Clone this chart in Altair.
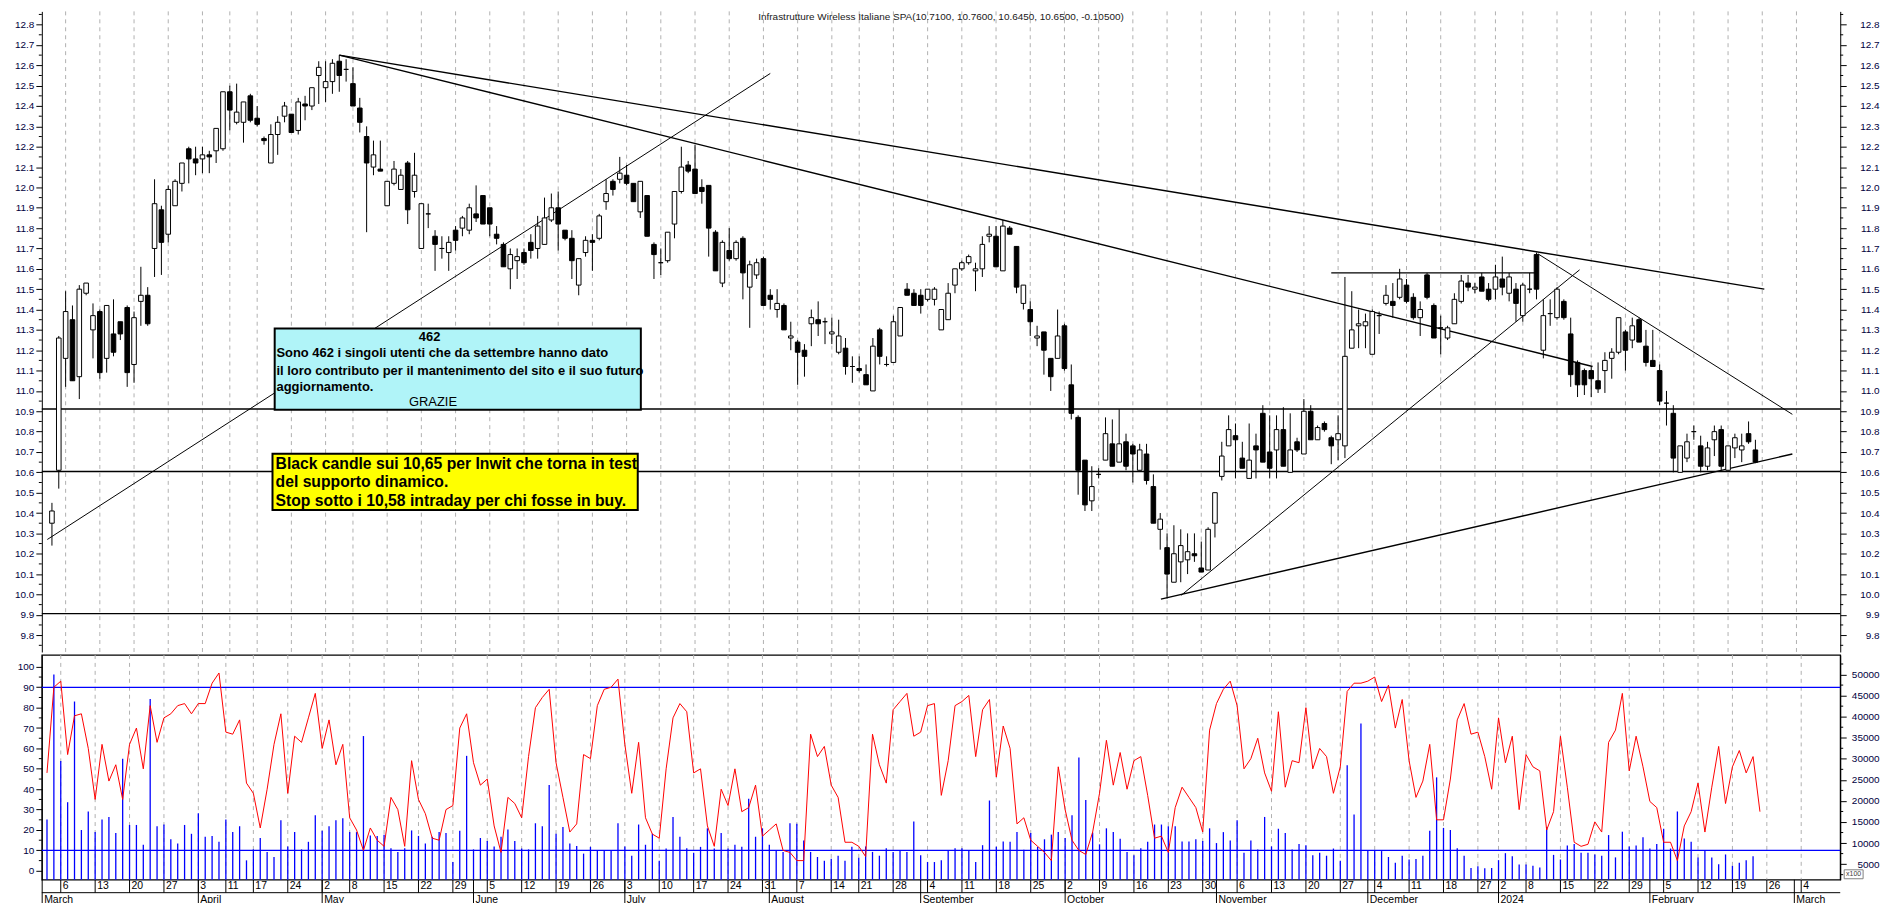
import altair as alt
import pandas as pd

# ---------------- data (trading-day index 0 = 2 Mar 2023) ----------------
OPEN = [10.35, 10.61, 11.16, 11.35, 11.07, 11.48, 11.30, 11.39, 11.16, 11.28,
        11.34, 11.41, 11.13, 11.44, 11.47, 11.70, 11.89, 11.77, 11.91, 12.02,
        12.19, 12.14, 12.14, 12.16, 12.18, 12.19, 12.47, 12.32, 12.32, 12.45,
        12.34, 12.24, 12.12, 12.26, 12.35, 12.36, 12.28, 12.41, 12.40, 12.55,
        12.49, 12.52, 12.62, 12.58, 12.51, 12.39, 12.25, 12.10, 12.09, 11.91,
        12.02, 11.99, 12.12, 11.98, 11.70, 11.87, 11.76, 11.70, 11.68, 11.79,
        11.80, 11.79, 11.87, 11.96, 11.90, 11.77, 11.72, 11.60, 11.64, 11.68,
        11.73, 11.70, 11.72, 11.84, 11.90, 11.79, 11.75, 11.52, 11.68, 11.74,
        11.75, 11.93, 12.03, 12.04, 12.06, 12.02, 11.88, 11.96, 11.72, 11.63,
        11.64, 11.82, 11.98, 12.11, 12.09, 12.00, 12.01, 11.78, 11.53, 11.69,
        11.65, 11.75, 11.51, 11.57, 11.65, 11.47, 11.40, 11.42, 11.26, 11.24,
        11.20, 11.33, 11.35, 11.34, 11.28, 11.19, 11.21, 11.12, 11.11, 11.08,
        11.00, 11.30, 11.13, 11.14, 11.27, 11.50, 11.48, 11.47, 11.45, 11.45,
        11.30, 11.35, 11.52, 11.60, 11.63, 11.59, 11.60, 11.76, 11.76, 11.59,
        11.80, 11.71, 11.43, 11.40, 11.26, 11.29, 11.16, 11.16, 11.32, 11.03,
        10.87, 10.66, 10.46, 10.59, 10.66, 10.74, 10.65, 10.75, 10.73, 10.61,
        10.69, 10.53, 10.32, 10.23, 10.06, 10.16, 10.17, 10.20, 10.13, 10.12,
        10.35, 10.58, 10.73, 10.78, 10.67, 10.57, 10.73, 10.89, 10.70, 10.71,
        10.81, 10.60, 10.75, 10.69, 10.90, 10.76, 10.84, 10.77, 10.76, 10.73,
        11.21, 11.32, 11.32, 11.18, 11.37, 11.43, 11.44, 11.46, 11.52, 11.46,
        11.36, 11.57, 11.42, 11.31, 11.26, 11.33, 11.44, 11.53, 11.50, 11.56,
        11.50, 11.50, 11.55, 11.48, 11.50, 11.37, 11.50, 11.67, 11.20, 11.38,
        11.36, 11.44, 11.28, 11.14, 11.10, 11.10, 11.05, 11.10, 11.16, 11.19,
        11.29, 11.25, 11.35, 11.22, 11.15, 11.10, 10.94, 10.89, 10.60, 10.67,
        10.80, 10.73, 10.63, 10.76, 10.81, 10.61, 10.72, 10.71, 10.79, 10.71]
HIGH = [10.45, 11.27, 11.49, 11.42, 11.52, 11.53, 11.43, 11.40, 11.42, 11.45,
        11.34, 11.42, 11.39, 11.61, 11.51, 12.04, 11.91, 12.01, 12.04, 12.12,
        12.20, 12.20, 12.20, 12.18, 12.29, 12.47, 12.50, 12.51, 12.42, 12.46,
        12.40, 12.25, 12.31, 12.35, 12.42, 12.36, 12.44, 12.45, 12.49, 12.62,
        12.62, 12.63, 12.65, 12.63, 12.59, 12.44, 12.30, 12.23, 12.23, 12.03,
        12.13, 12.09, 12.13, 12.17, 11.92, 11.92, 11.79, 11.76, 11.76, 11.81,
        11.86, 11.92, 12.01, 11.96, 11.90, 11.81, 11.73, 11.70, 11.70, 11.70,
        11.77, 11.86, 11.95, 11.97, 11.98, 11.79, 11.79, 11.65, 11.76, 11.77,
        11.87, 12.04, 12.04, 12.15, 12.11, 12.02, 12.03, 11.96, 11.73, 11.70,
        11.78, 11.98, 12.20, 12.13, 12.21, 12.04, 12.01, 11.79, 11.74, 11.80,
        11.74, 11.76, 11.64, 11.65, 11.66, 11.50, 11.50, 11.43, 11.34, 11.25,
        11.23, 11.40, 11.44, 11.36, 11.36, 11.35, 11.26, 11.17, 11.17, 11.13,
        11.26, 11.31, 11.17, 11.37, 11.41, 11.53, 11.50, 11.50, 11.50, 11.51,
        11.40, 11.53, 11.60, 11.64, 11.67, 11.63, 11.76, 11.81, 11.81, 11.84,
        11.81, 11.71, 11.52, 11.44, 11.32, 11.29, 11.16, 11.40, 11.33, 11.13,
        10.88, 10.66, 10.63, 10.62, 10.87, 10.86, 10.91, 10.79, 10.74, 10.74,
        10.74, 10.59, 10.40, 10.30, 10.34, 10.32, 10.30, 10.30, 10.26, 10.33,
        10.50, 10.75, 10.88, 10.84, 10.75, 10.84, 10.79, 10.93, 10.88, 10.88,
        10.92, 10.89, 10.77, 10.96, 10.93, 10.83, 10.85, 10.78, 10.88, 11.56,
        11.49, 11.40, 11.38, 11.40, 11.39, 11.52, 11.53, 11.60, 11.55, 11.48,
        11.44, 11.58, 11.43, 11.37, 11.32, 11.48, 11.57, 11.57, 11.53, 11.58,
        11.53, 11.62, 11.66, 11.58, 11.53, 11.53, 11.58, 11.68, 11.45, 11.45,
        11.51, 11.45, 11.36, 11.15, 11.11, 11.12, 11.14, 11.19, 11.21, 11.36,
        11.30, 11.36, 11.36, 11.30, 11.30, 11.13, 11.00, 10.93, 10.73, 10.79,
        10.83, 10.78, 10.75, 10.83, 10.83, 10.73, 10.79, 10.79, 10.85, 10.76]
LOW = [10.24, 10.52, 11.02, 11.05, 10.96, 11.47, 11.16, 11.06, 11.09, 11.17,
       11.25, 11.02, 11.04, 11.32, 11.32, 11.56, 11.57, 11.73, 11.91, 11.98,
       12.02, 12.06, 12.07, 12.07, 12.12, 12.18, 12.28, 12.31, 12.22, 12.32,
       12.30, 12.21, 12.12, 12.16, 12.32, 12.27, 12.26, 12.33, 12.38, 12.41,
       12.42, 12.46, 12.47, 12.52, 12.40, 12.27, 11.78, 12.06, 12.08, 11.91,
       12.01, 11.99, 11.82, 11.95, 11.70, 11.80, 11.59, 11.65, 11.59, 11.69,
       11.76, 11.77, 11.83, 11.82, 11.76, 11.72, 11.61, 11.50, 11.55, 11.62,
       11.65, 11.65, 11.72, 11.83, 11.69, 11.74, 11.55, 11.47, 11.66, 11.59,
       11.74, 11.89, 11.96, 12.02, 12.01, 11.93, 11.85, 11.76, 11.55, 11.57,
       11.63, 11.75, 11.97, 12.07, 11.97, 11.92, 11.66, 11.59, 11.51, 11.64,
       11.64, 11.45, 11.31, 11.55, 11.42, 11.40, 11.36, 11.30, 11.20, 11.03,
       11.07, 11.22, 11.27, 11.23, 11.23, 11.18, 11.08, 11.04, 11.09, 11.03,
       11.00, 11.13, 11.12, 11.14, 11.27, 11.47, 11.42, 11.38, 11.44, 11.42,
       11.30, 11.35, 11.48, 11.59, 11.62, 11.49, 11.56, 11.73, 11.61, 11.59,
       11.77, 11.48, 11.40, 11.27, 11.22, 11.08, 11.00, 11.16, 11.10, 10.86,
       10.49, 10.41, 10.41, 10.57, 10.66, 10.63, 10.65, 10.61, 10.55, 10.61,
       10.54, 10.35, 10.22, 9.98, 10.06, 10.06, 10.10, 10.16, 10.11, 10.12,
       10.28, 10.56, 10.73, 10.57, 10.62, 10.57, 10.57, 10.65, 10.57, 10.57,
       10.63, 10.60, 10.70, 10.69, 10.76, 10.76, 10.80, 10.64, 10.66, 10.67,
       11.21, 11.21, 11.21, 11.18, 11.28, 11.42, 11.36, 11.45, 11.43, 11.35,
       11.27, 11.45, 11.26, 11.18, 11.25, 11.33, 11.43, 11.49, 11.48, 11.49,
       11.44, 11.45, 11.47, 11.44, 11.34, 11.34, 11.48, 11.45, 11.16, 11.32,
       11.35, 11.35, 11.02, 10.97, 10.98, 10.97, 10.99, 10.99, 11.06, 11.18,
       11.10, 11.21, 11.24, 11.12, 11.12, 10.93, 10.83, 10.60, 10.60, 10.65,
       10.76, 10.60, 10.61, 10.68, 10.61, 10.61, 10.67, 10.65, 10.74, 10.645]
CLOSE = [10.41, 11.26, 11.39, 11.05, 11.50, 11.53, 11.37, 11.09, 11.42, 11.19,
         11.28, 11.09, 11.36, 11.47, 11.33, 11.92, 11.73, 11.99, 12.03, 12.12,
         12.14, 12.12, 12.16, 12.15, 12.29, 12.47, 12.38, 12.37, 12.42, 12.33,
         12.31, 12.23, 12.26, 12.32, 12.40, 12.27, 12.42, 12.40, 12.49, 12.59,
         12.52, 12.61, 12.55, 12.58, 12.40, 12.32, 12.12, 12.16, 12.08, 12.03,
         12.09, 12.06, 11.89, 12.06, 11.92, 11.87, 11.72, 11.70, 11.73, 11.74,
         11.85, 11.90, 11.85, 11.82, 11.82, 11.75, 11.61, 11.67, 11.66, 11.63,
         11.69, 11.81, 11.85, 11.90, 11.82, 11.75, 11.64, 11.65, 11.74, 11.73,
         11.86, 11.97, 11.99, 12.07, 12.02, 11.93, 12.03, 11.76, 11.67, 11.63,
         11.78, 11.98, 12.10, 12.08, 11.97, 11.98, 11.80, 11.59, 11.73, 11.65,
         11.73, 11.58, 11.62, 11.63, 11.42, 11.45, 11.43, 11.30, 11.27, 11.19,
         11.17, 11.36, 11.33, 11.34, 11.29, 11.27, 11.12, 11.12, 11.10, 11.03,
         11.22, 11.17, 11.13, 11.34, 11.41, 11.47, 11.42, 11.42, 11.50, 11.50,
         11.40, 11.48, 11.60, 11.63, 11.66, 11.60, 11.72, 11.77, 11.61, 11.81,
         11.77, 11.51, 11.52, 11.34, 11.27, 11.20, 11.07, 11.27, 11.11, 10.89,
         10.61, 10.44, 10.53, 10.59, 10.79, 10.63, 10.74, 10.63, 10.69, 10.71,
         10.56, 10.35, 10.37, 10.10, 10.20, 10.24, 10.21, 10.19, 10.11, 10.32,
         10.50, 10.68, 10.81, 10.76, 10.62, 10.66, 10.71, 10.65, 10.62, 10.81,
         10.63, 10.71, 10.71, 10.90, 10.76, 10.82, 10.81, 10.73, 10.79, 11.17,
         11.30, 11.33, 11.34, 11.39, 11.37, 11.47, 11.42, 11.55, 11.44, 11.36,
         11.40, 11.46, 11.26, 11.31, 11.31, 11.45, 11.54, 11.51, 11.51, 11.49,
         11.45, 11.56, 11.51, 11.56, 11.43, 11.52, 11.50, 11.50, 11.37, 11.38,
         11.50, 11.36, 11.08, 11.03, 11.03, 11.06, 11.01, 11.15, 11.19, 11.36,
         11.20, 11.32, 11.24, 11.14, 11.12, 10.95, 10.94, 10.67, 10.73, 10.75,
         10.80, 10.63, 10.72, 10.80, 10.63, 10.73, 10.77, 10.73, 10.75, 10.65]
OSC = [48, 90, 93, 57, 76, 77, 60, 35, 62, 44, 52, 35, 62, 70, 50, 81, 63, 75, 77, 81,
       82, 77, 82, 82, 92, 97, 68, 67, 74, 43, 38, 21, 40, 62, 77, 38, 66, 63, 75, 87,
       60, 74, 52, 62, 26, 20, 10, 21, 15, 12, 36, 30, 12, 54, 35, 28, 16, 15, 30, 32,
       70, 77, 53, 42, 45, 22, 9, 36, 33, 26, 56, 80, 85, 89, 53, 36, 19, 23, 57, 55,
       81, 89, 90, 94, 62, 38, 63, 26, 18, 16, 50, 75, 82, 78, 48, 50, 22, 12, 40, 32,
       50, 29, 31, 42, 17, 20, 23, 10, 9, 5, 5, 67, 56, 61, 42, 36, 14, 14, 12, 7,
       67, 52, 43, 79, 83, 87, 66, 68, 81, 82, 37, 54, 81, 83, 86, 56, 79, 84, 46, 71,
       60, 23, 26, 15, 12, 9, 5, 51, 30, 15, 10, 8, 19, 38, 64, 42, 58, 40, 54, 56,
       37, 16, 17, 9, 31, 41, 36, 31, 19, 69, 82, 89, 93, 81, 50, 55, 65, 48, 39, 78,
       41, 54, 53, 80, 50, 60, 56, 38, 51, 88, 92, 92, 93, 95, 83, 91, 70, 84, 54, 36,
       44, 62, 25, 25, 45, 74, 82, 67, 68, 56, 40, 75, 53, 66, 30, 57, 51, 49, 20, 29,
       66, 41, 14, 12, 13, 24, 19, 63, 69, 87, 49, 66, 51, 34, 31, 14, 14, 5, 22, 29,
       43, 19, 41, 61, 33, 51, 59, 48, 56, 29]
VOL = [15600, 50000, 29500, 19700, 43600, 13100, 17500, 12600, 15600, 16200,
       12400, 30000, 14300, 14300, 9600, 44200, 14000, 14400, 10900, 9900,
       14300, 12200, 17100, 11500, 11700, 10300, 15600, 12600, 14000, 5900,
       8500, 11200, 7900, 6700, 15400, 9200, 12600, 8500, 10300, 16600,
       12900, 14000, 15400, 15900, 12600, 12600, 35400, 11800, 11700, 12000,
       8800, 7900, 8800, 13000, 11700, 9900, 11500, 12600, 12400, 5500,
       12900, 30700, 8500, 11200, 10500, 9200, 11500, 13200, 10500, 8700,
       8500, 14700, 14000, 23800, 12200, 13800, 9900, 9300, 7500, 9100,
       8100, 8100, 8100, 14700, 9200, 7000, 14400, 9600, 12200, 5800,
       8700, 16200, 11500, 8800, 7700, 9100, 13500, 8700, 12400, 8700,
       9600, 9100, 20500, 11500, 13500, 9600, 8300, 7900, 14700, 14600,
       10600, 7900, 6700, 5800, 6300, 7000, 5800, 9100, 6500, 9200,
       7900, 7000, 8800, 7900, 8300, 7900, 15100, 7100, 5500, 5500,
       5900, 8300, 8800, 8800, 8100, 5500, 9500, 20100, 9100, 10400,
       10300, 12600, 8400, 12400, 9100, 10900, 12000, 12600, 11200, 16600,
       30300, 20200, 12500, 9700, 13500, 12600, 11000, 7900, 7100, 8800,
       10300, 14400, 14400, 14000, 14000, 10400, 10400, 10900, 10500, 13500,
       10000, 12600, 10600, 15400, 7700, 10600, 8500, 16200, 9200, 13400,
       12400, 8500, 9800, 9500, 7100, 7700, 7000, 8700, 5800, 28500,
       16800, 38400, 8100, 8100, 8100, 6700, 5300, 7000, 6100, 6200,
       7000, 12900, 25600, 13600, 13100, 8800, 7000, 4100, 4500, 4000,
       4100, 5950, 7600, 6900, 4900, 4900, 4600, 4200, 13800, 7200,
       6100, 9400, 9800, 7700, 7700, 7300, 7000, 11900, 6600, 12700,
       9200, 9400, 11400, 8700, 9800, 13400, 8700, 17500, 11100, 10300,
       6600, 8300, 6600, 5000, 7300, 4600, 5300, 5950, 6900, None]

WEEK_IDX = [2, 7, 12, 17, 22, 26, 30, 35, 40, 44, 49, 54, 59, 64, 69, 74, 79, 84, 89, 94,
            99, 104, 109, 114, 118, 123, 128, 133, 138, 143, 148, 153, 158, 163, 168,
            173, 178, 183, 188, 193, 198, 203, 208, 211, 215, 220, 225, 230, 235, 240,
            245, 250, 255]
WEEK_LBL = ["6", "13", "20", "27", "3", "11", "17", "24", "2", "8", "15", "22", "29", "5",
            "12", "19", "26", "3", "10", "17", "24", "31", "7", "14", "21", "28", "4",
            "11", "18", "25", "2", "9", "16", "23", "30", "6", "13", "20", "27", "4",
            "11", "18", "27", "2", "8", "15", "22", "29", "5", "12", "19", "26", "4"]
MONTH_IDX = [-0.7, 22, 40, 62, 84, 105, 127, 148, 170, 192, 211, 233, 254]
MONTH_LBL = ["March", "April", "May", "June", "July", "August", "September", "October",
             "November", "December", "2024", "February", "March"]

# drawn trend lines (index, price) -> (index, price)
TL_I0 = [42.0, 42.0, -0.68, 162.1, 165.07, 187.0, 217.2]
TL_P0 = [12.65, 12.65, 10.27, 9.977, 9.996, 11.58, 11.674]
TL_I1 = [250.3, 225.2, 105.0, 254.4, 223.3, 217.0, 254.4]
TL_P1 = [11.50, 11.12, 12.56, 10.69, 11.595, 11.58, 10.885]
TL_W = [1.4, 1.4, 1.0, 1.4, 1.0, 1.4, 1.0]
HLINES = [10.911, 10.604, 9.9055]
OSC_LINES = [90, 10]

TITLE = "Infrastrutture Wireless  Italiane SPA(10.7100, 10.7600, 10.6450, 10.6500, -0.10500)"
CYAN_LINES = ["Sono 462 i singoli utenti che da settembre hanno dato",
              "il loro contributo per il mantenimento del sito e il suo futuro",
              "aggiornamento."]
CYAN_LINE_P = [11.185, 11.099, 11.017]
YELLOW_LINES = ["Black candle sui 10,65 per Inwit che torna in test",
                "del supporto dinamico.",
                "Stop sotto i 10,58 intraday per chi fosse in buy."]
YELLOW_LINE_P = [10.643, 10.550, 10.457]

P_MAJOR = [round(9.8 + 0.1 * k, 2) for k in range(31)]
P_MINOR = [round(9.75 + 0.1 * k, 2) for k in range(32)]
O_MAJOR = list(range(0, 101, 10))
O_MINOR = list(range(5, 100, 10))
V_MAJOR = list(range(5000, 50001, 5000))
V_MINOR = list(range(2500, 52501, 5000))

# ---------------- layout ----------------
W, H_TOP, H_BOT = 1808, 644, 226
X_DOM = [-0.752, 260.67]
P_DOM = [9.7173, 12.865]
OSC_DOM = [-4.39, 105.85]
VOL_DOM = [1294, 54651]

xs = alt.Scale(domain=X_DOM, nice=False, zero=False)
ps = alt.Scale(domain=P_DOM, nice=False, zero=False)
oscs = alt.Scale(domain=OSC_DOM, nice=False, zero=False)
vs = alt.Scale(domain=VOL_DOM, nice=False, zero=False)

SANS = "Liberation Sans, Arial, sans-serif"
AX_COL = "#000040"


def X(f):
    return alt.X(f, type="quantitative", scale=xs, axis=None)


def Y(f, scale, axis=None):
    return alt.Y(f, type="quantitative", scale=scale, axis=axis)


def axis(orient, values, fmt, pad, extent):
    return alt.Axis(orient=orient, values=values, format=fmt, title=None, grid=False,
                    domain=True, domainColor="black", domainWidth=1,
                    ticks=True, tickColor="black", tickSize=6, tickWidth=1,
                    labelFont=SANS, labelFontSize=10, labelColor=AX_COL,
                    labelPadding=pad, labelAlign="right", labelBaseline="middle",
                    labelOverlap=False, labelFlush=False, labelBound=False,
                    minExtent=extent, maxExtent=extent)


N = len(CLOSE)
candles = pd.DataFrame({"i": list(range(N)), "o": OPEN, "h": HIGH, "l": LOW, "c": CLOSE})
osc = pd.DataFrame({"i": list(range(N)), "v": OSC})
vol = pd.DataFrame({"i": list(range(N)), "v": VOL}).dropna()
vol["b"] = VOL_DOM[0]
weeks = pd.DataFrame({"i": WEEK_IDX, "lbl": WEEK_LBL})
months = pd.DataFrame({"i": MONTH_IDX, "lbl": MONTH_LBL})
trend = pd.DataFrame({"i0": TL_I0, "p0": TL_P0, "i1": TL_I1, "p1": TL_P1, "w": TL_W})
hl = pd.DataFrame({"p": HLINES})
one = pd.DataFrame({"a": [0]})

# ---------------- top panel ----------------
grid = alt.Chart(weeks).mark_rule(color="#b0b0b0", strokeDash=[4, 4], strokeWidth=1).encode(x=X("i"))

hlines = alt.Chart(hl).mark_rule(color="black", strokeWidth=1.4).encode(y=Y("p", ps))

minor_l = alt.Chart(pd.DataFrame({"p": P_MINOR})).mark_rule(color="black").encode(
    x=alt.value(-3), x2=alt.value(0), y=Y("p", ps))
minor_r = alt.Chart(pd.DataFrame({"p": P_MINOR})).mark_rule(color="black").encode(
    x=alt.value(W), x2=alt.value(W + 3), y=Y("p", ps))

trendl = alt.Chart(trend).mark_rule(color="black", clip=True).encode(
    x=X("i0"), x2="i1", y=Y("p0", ps), y2="p1",
    strokeWidth=alt.StrokeWidth("w:Q", scale=None))

wicks = alt.Chart(candles).mark_rule(color="black", strokeWidth=1).encode(
    x=X("i"), y=Y("l", ps), y2="h")

bodies = alt.Chart(candles).mark_bar(width=4.6, stroke="black", strokeWidth=1).encode(
    x=X("i"), y=Y("o", ps), y2="c",
    fill=alt.condition("datum.c >= datum.o", alt.value("white"), alt.value("black")),
)

boxes = alt.Chart(pd.DataFrame({
    "i0": [32.56, 32.24], "i1": [86.08, 85.63],
    "p0": [11.307, 10.691], "p1": [10.907, 10.415],
    "f": ["#b0f4f8", "#ffff00"]})).mark_rect(stroke="black", strokeWidth=2).encode(
    x=X("i0"), x2="i1", y=Y("p0", ps), y2="p1", fill=alt.Fill("f:N", scale=None))

cyan_txt = alt.Chart(pd.DataFrame({"t": CYAN_LINES, "p": CYAN_LINE_P, "i": [32.82] * 3})).mark_text(
    align="left", baseline="middle", font=SANS, fontSize=13, fontWeight="bold", color="black").encode(
    x=X("i"), y=Y("p", ps), text="t:N")
cyan_head = alt.Chart(pd.DataFrame({"t": ["462"], "p": [11.267], "i": [55.2]})).mark_text(
    align="center", baseline="middle", font=SANS, fontSize=13, fontWeight="bold", color="black").encode(
    x=X("i"), y=Y("p", ps), text="t:N")
cyan_foot = alt.Chart(pd.DataFrame({"t": ["GRAZIE"], "p": [10.944], "i": [55.7]})).mark_text(
    align="center", baseline="middle", font=SANS, fontSize=13, color="black").encode(
    x=X("i"), y=Y("p", ps), text="t:N")
yellow_txt = alt.Chart(pd.DataFrame({"t": YELLOW_LINES, "p": YELLOW_LINE_P, "i": [32.69] * 3})).mark_text(
    align="left", baseline="middle", font=SANS, fontSize=15.8, fontWeight="bold", color="black").encode(
    x=X("i"), y=Y("p", ps), text="t:N")

title = alt.Chart(pd.DataFrame({"t": [TITLE], "i": [129.96]})).mark_text(
    align="center", baseline="top", font=SANS, fontSize=10, color="#202020").encode(
    x=X("i"), y=alt.value(0.5), text="t:N")

left_axis = alt.Chart(pd.DataFrame({"p": P_MAJOR})).mark_rule(opacity=0).encode(
    y=Y("p", ps, axis("left", P_MAJOR, ".1f", 2, 33)))
right_axis = alt.Chart(pd.DataFrame({"p": P_MAJOR})).mark_rule(opacity=0).encode(
    y=Y("p", ps, axis("right", P_MAJOR, ".1f", 33, 41)))

top_inner = alt.layer(grid, hlines, minor_l, minor_r, trendl, wicks, bodies, boxes,
                      cyan_txt, cyan_head, cyan_foot, yellow_txt, title)
top = alt.layer(top_inner, left_axis, right_axis).resolve_scale(y="independent").properties(
    width=W, height=H_TOP)

# ---------------- bottom panel ----------------
grid_b = alt.Chart(weeks).mark_rule(color="#b0b0b0", strokeDash=[4, 4], strokeWidth=1).encode(x=X("i"))
vbars = alt.Chart(vol).mark_rule(color="#0000ff", strokeWidth=1.3).encode(
    x=X("i"), y=Y("v", vs), y2="b")
vminor = alt.Chart(pd.DataFrame({"v": V_MINOR})).mark_rule(color="black").encode(
    x=alt.value(W), x2=alt.value(W + 3), y=Y("v", vs))
vol_layer = alt.layer(grid_b, vbars, vminor)

blue = alt.Chart(pd.DataFrame({"v": OSC_LINES})).mark_rule(color="#0000ff", strokeWidth=1.3).encode(
    y=Y("v", oscs))
ominor = alt.Chart(pd.DataFrame({"v": O_MINOR})).mark_rule(color="black").encode(
    x=alt.value(-3), x2=alt.value(0), y=Y("v", oscs))
red = alt.Chart(osc).mark_line(color="#ff0000", strokeWidth=1).encode(
    x=X("i"), y=Y("v", oscs))

day_ticks = alt.Chart(weeks).mark_rule(color="black").encode(
    x=X("i"), y=alt.value(H_BOT), y2=alt.value(H_BOT + 13))
day_lbls = alt.Chart(weeks).mark_text(align="left", baseline="middle", dx=2, font=SANS,
                                      fontSize=10.5, color="black").encode(
    x=X("i"), y=alt.value(H_BOT + 6.5), text="lbl:N")
month_sep = alt.Chart(one).mark_rule(color="black").encode(
    x=alt.value(0), x2=alt.value(W), y=alt.value(H_BOT + 13))
month_lines = alt.Chart(months).mark_rule(color="black").encode(
    x=X("i"), y=alt.value(H_BOT), y2=alt.value(H_BOT + 25))
month_lbls = alt.Chart(months).mark_text(align="left", baseline="middle", dx=2, font=SANS,
                                         fontSize=10.5, color="black").encode(
    x=X("i"), y=alt.value(H_BOT + 20.5), text="lbl:N")
x100_box = alt.Chart(one).mark_rect(fill="white", stroke="#808080", strokeWidth=1).encode(
    x=alt.value(W + 4), x2=alt.value(W + 23), y=alt.value(H_BOT - 10), y2=alt.value(H_BOT - 1))
x100_txt = alt.Chart(pd.DataFrame({"t": ["x100"]})).mark_text(
    align="center", baseline="middle", font=SANS, fontSize=7, color="#404040").encode(
    x=alt.value(W + 13.5), y=alt.value(H_BOT - 5.5), text="t:N")

osc_layer = alt.layer(blue, ominor, red, day_ticks, day_lbls, month_sep, month_lines,
                      month_lbls, x100_box, x100_txt)

osc_axis = alt.Chart(pd.DataFrame({"v": O_MAJOR})).mark_rule(opacity=0).encode(
    y=Y("v", oscs, axis("left", O_MAJOR, "d", 2, 33)))
vol_axis = alt.Chart(pd.DataFrame({"v": V_MAJOR})).mark_rule(opacity=0).encode(
    y=Y("v", vs, axis("right", V_MAJOR, "d", 33, 41)))

bottom = alt.layer(vol_layer, osc_layer, osc_axis, vol_axis).resolve_scale(y="independent").properties(
    width=W, height=H_BOT, view=alt.ViewBackground(stroke="black", strokeWidth=1.3))

chart = alt.vconcat(top, bottom, spacing=0).properties(
    padding=0, background="white").configure_view(stroke=None)

chart.save("out.html", embed_options={"renderer": "svg", "actions": False})
